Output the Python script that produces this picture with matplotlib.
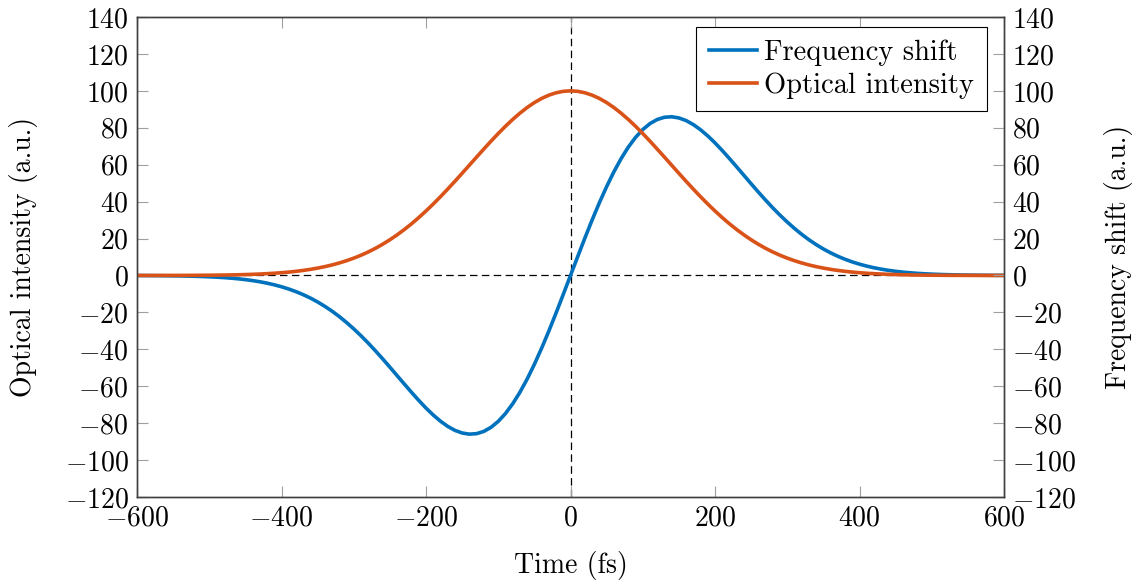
import matplotlib
matplotlib.use("Agg")
import matplotlib.pyplot as plt

# values, every 10 fs
time_fs = list(range(-600, 601, 10))

intensity = [0.01, 0.01, 0.01, 0.02, 0.03, 0.04, 0.05, 0.06, 0.08, 0.11,
             0.14, 0.18, 0.23, 0.30, 0.38, 0.49, 0.62, 0.77, 0.97, 1.20,
             1.49, 1.83, 2.24, 2.73, 3.31, 3.99, 4.78, 5.70, 6.77, 7.99,
             9.38, 10.95, 12.72, 14.70, 16.90, 19.33, 21.99, 24.88, 28.00, 31.36,
             34.93, 38.70, 42.65, 46.77, 51.01, 55.34, 59.73, 64.12, 68.47, 72.75,
             76.88, 80.82, 84.51, 87.91, 90.97, 93.64, 95.88, 97.66, 98.95, 99.74,
             100.0,
             99.74, 98.95, 97.66, 95.88, 93.64, 90.97, 87.91, 84.51, 80.82, 76.88,
             72.75, 68.47, 64.12, 59.73, 55.34, 51.01, 46.77, 42.65, 38.70, 34.93,
             31.36, 28.00, 24.88, 21.99, 19.33, 16.90, 14.70, 12.72, 10.95, 9.38,
             7.99, 6.77, 5.70, 4.78, 3.99, 3.31, 2.73, 2.24, 1.83, 1.49,
             1.20, 0.97, 0.77, 0.62, 0.49, 0.38, 0.30, 0.23, 0.18, 0.14,
             0.11, 0.08, 0.06, 0.05, 0.04, 0.03, 0.02, 0.01, 0.01, 0.01]

freq_shift = [-0.05, -0.06, -0.09, -0.12, -0.15, -0.20, -0.26, -0.34, -0.44, -0.56,
              -0.72, -0.91, -1.15, -1.45, -1.81, -2.25, -2.78, -3.42, -4.17, -5.07,
              -6.12, -7.34, -8.76, -10.39, -12.25, -14.35, -16.72, -19.35, -22.27, -25.46,
              -28.93, -32.65, -36.61, -40.81, -45.17, -49.67, -54.25, -58.82, -63.32, -67.69,
              -71.82, -75.59, -78.92, -81.73, -83.90, -85.33, -85.96, -85.69, -84.47, -82.26,
              -79.03, -74.77, -69.50, -63.26, -56.11, -48.13, -39.43, -30.12, -20.35, -10.25,
              0.0,
              10.25, 20.35, 30.12, 39.43, 48.13, 56.11, 63.26, 69.50, 74.77, 79.03,
              82.26, 84.47, 85.69, 85.96, 85.33, 83.90, 81.73, 78.92, 75.59, 71.82,
              67.69, 63.32, 58.82, 54.25, 49.67, 45.17, 40.81, 36.61, 32.65, 28.93,
              25.46, 22.27, 19.35, 16.72, 14.35, 12.25, 10.39, 8.76, 7.34, 6.12,
              5.07, 4.17, 3.42, 2.78, 2.25, 1.81, 1.45, 1.15, 0.91, 0.72,
              0.56, 0.44, 0.34, 0.26, 0.20, 0.15, 0.12, 0.09, 0.06, 0.05]

y_ticks = list(range(-120, 141, 20))
x_ticks = list(range(-600, 601, 200))

plt.rcParams['font.family'] = 'cmr10'
plt.rcParams['mathtext.fontset'] = 'cm'
plt.rcParams['axes.formatter.use_mathtext'] = True
plt.rcParams['font.size'] = 20
plt.rcParams['axes.unicode_minus'] = True

blue = '#0072BD'
orange = '#D95319'

fig = plt.figure(figsize=(11.33, 5.83), dpi=100)
ax = fig.add_axes([137 / 1133, 1 - 497 / 583, (1004 - 137) / 1133, (497 - 17) / 583])
ax2 = ax.twinx()

ax.axhline(0, color='black', lw=0.9, dashes=(6, 3.5), zorder=1)
ax.axvline(0, color='black', lw=0.9, dashes=(6, 3.5), zorder=1)

l1, = ax.plot(time_fs, freq_shift, color=blue, lw=2.6, label='Frequency shift', zorder=3)
l2, = ax.plot(time_fs, intensity, color=orange, lw=2.6, label='Optical intensity', zorder=3)

for a in (ax, ax2):
    a.set_ylim(-120, 140)
    a.set_yticks(y_ticks)
    for s in a.spines.values():
        s.set_color('#404040')
        s.set_linewidth(1.0)
ax.set_xlim(-600, 600)
ax.set_xticks(x_ticks)

ax.tick_params(axis='both', direction='in', length=8, width=0.8, color='#a0a0a0',
               top=True, pad=6, labelsize=20)
ax.tick_params(axis='y', right=False)
ax2.tick_params(axis='y', direction='in', length=8, width=0.8, color='#a0a0a0',
                pad=6, labelsize=20)

ax.set_xlabel('Time (fs)', fontsize=20, labelpad=14)
ax.set_ylabel('Optical intensity (a.u.)', fontsize=20, labelpad=19)
ax2.set_ylabel('Frequency shift (a.u.)', fontsize=20, labelpad=20)

leg = ax.legend(handles=[l1, l2], loc='upper right',
                bbox_to_anchor=((987 - 137) / 867, (497 - 27) / 480),
                fontsize=20.5, frameon=True, fancybox=False, edgecolor='black',
                framealpha=1, borderaxespad=0, handlelength=1.7, handletextpad=0.25,
                borderpad=0.45, labelspacing=0.2)
leg.get_frame().set_linewidth(0.8)

fig.savefig('out.png', dpi=100)
